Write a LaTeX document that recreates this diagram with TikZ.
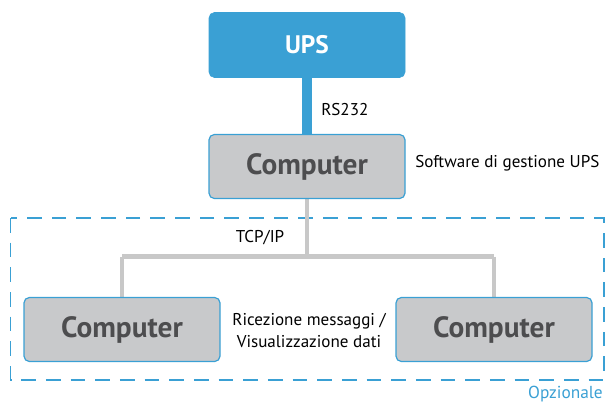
\documentclass[tikz,border=0pt]{standalone}
\usepackage{fontspec}
\setmainfont{PT Sans}
\definecolor{upsblue}{HTML}{3AA0D4}
\definecolor{boxgray}{HTML}{C8C9CB}
\definecolor{txtgray}{HTML}{4D4D4F}
\definecolor{linegray}{HTML}{C8C8C8}
\begin{document}
\begin{tikzpicture}[x=0.75pt,y=-0.75pt,
  upsbox/.style={fill=upsblue,draw=upsblue,rounded corners=4pt,minimum width=147pt,minimum height=48.75pt,text=white,font=\fontsize{19}{21}\selectfont\bfseries},
  compbox/.style={fill=boxgray,draw=upsblue,line width=0.9pt,rounded corners=4pt,minimum width=147pt,minimum height=48pt,text=txtgray,font=\fontsize{22}{24}\selectfont\bfseries},
  lbl/.style={font=\fontsize{12.8}{16.5}\selectfont,text=black,inner sep=0pt},
  bluelink/.style={draw=upsblue,line width=7.5pt},
  graylink/.style={draw=linegray,line width=3.6pt}
]
\useasboundingbox (0,0) rectangle (605,403);
% optional dashed region
\draw[upsblue,line width=0.8pt,dash pattern=on 11pt off 7.5pt] (10.5,218) rectangle (604,380);
\node[font=\fontsize{13}{15}\selectfont,text=upsblue,anchor=east,inner sep=0pt] (opz) at (603,394.5) {Opzionale};

\coordinate (junc) at (307,256.5);
\coordinate (jl) at (122,256.5);
\coordinate (jr) at (494,256.5);

\draw[graylink] (307,197) -- (junc);
\draw[graylink] (jl) -- (jr);
\draw[graylink] (jl) -- (122,297);
\draw[graylink] (jr) -- (494,297);
\draw[bluelink] (307,77) -- (307,136);

\node[upsbox] (ups) at (307,45) {UPS};
\node[compbox] (pc) at (307,166.5) {Computer};
\node[compbox] (pcl) at (122,329.5) {Computer};
\node[compbox] (pcr) at (494,329.5) {Computer};

\node[lbl,anchor=west] (rs) at (321,110) {RS232};
\node[lbl,anchor=west] (sw) at (415,163) {Software di gestione UPS};
\node[lbl] (tcp) at (260,238) {TCP/IP};
\node[lbl,align=center] (ric) at (309,331) {Ricezione messaggi /\\Visualizzazione dati};
\end{tikzpicture}
\end{document}
